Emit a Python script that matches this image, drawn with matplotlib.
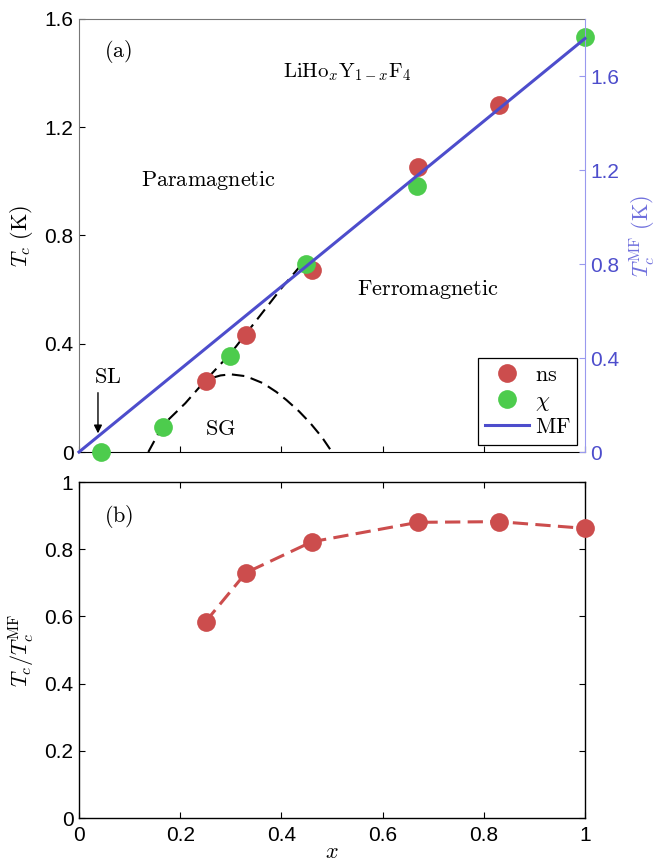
import matplotlib
matplotlib.use("Agg")
import matplotlib.pyplot as plt
from matplotlib.lines import Line2D

plt.rcParams['font.family'] = ['Liberation Sans', 'DejaVu Sans']
plt.rcParams['mathtext.fontset'] = 'cm'

# ---------------- data ----------------
x_ns = [0.25, 0.33, 0.46, 0.67, 0.83]
tc_ns = [0.262, 0.432, 0.673, 1.053, 1.282]

x_chi = [0.043, 0.166, 0.298, 0.449, 0.668, 1.0]
tc_chi = [0.0, 0.092, 0.355, 0.695, 0.983, 1.534]

x_mf = [0.0, 1.0]
tc_mf = [0.0, 1.76]

# dashed guide: FM boundary
x_fm = [0.137, 0.166, 0.21, 0.25, 0.30, 0.35, 0.40, 0.443]
t_fm = [0.0, 0.10, 0.18, 0.265, 0.365, 0.485, 0.605, 0.70]
# dashed guide: spin-glass dome
x_sg = [0.265, 0.28, 0.30, 0.33, 0.364, 0.39, 0.41, 0.435, 0.457, 0.48, 0.50]
t_sg = [0.275, 0.283, 0.287, 0.28, 0.254, 0.222, 0.192, 0.15, 0.107, 0.055, 0.0]

x_ratio = [0.25, 0.33, 0.46, 0.67, 0.83, 1.0]
ratio = [0.584, 0.730, 0.822, 0.880, 0.882, 0.862]

xticks = [0, 0.2, 0.4, 0.6, 0.8, 1.0]
xtick_labels = ['0', '0.2', '0.4', '0.6', '0.8', '1']
yticks_a = [0, 0.4, 0.8, 1.2, 1.6]
yticks_a_labels = ['0', '0.4', '0.8', '1.2', '1.6']
yticks_b = [0, 0.2, 0.4, 0.6, 0.8, 1.0]
yticks_b_labels = ['0', '0.2', '0.4', '0.6', '0.8', '1']

RED = '#cc4d4d'
GREEN = '#4dcc4d'
BLUE = '#4d4dcc'
LBLUE = '#9999ee'

fig = plt.figure(figsize=(6.64, 8.63), dpi=100)
W, H = 664, 863
ax1 = fig.add_axes([79 / W, 1 - 452 / H, 506 / W, 433 / H])
ax2 = ax1.twinx()
axb = fig.add_axes([79 / W, 1 - 818 / H, 506 / W, 336 / H])

ms = 13.5
fs = 15      # tick labels
ft = 16      # annotation text

# ---------- panel (a) ----------
ax1.plot(x_fm, t_fm, color='black', lw=1.5, ls=(0, (6, 3.2)), zorder=2)
ax1.plot(x_sg, t_sg, color='black', lw=1.5, ls=(0, (6, 3.2)), zorder=2)
ax1.plot(x_ns, tc_ns, 'o', color=RED, ms=ms, mec='none', zorder=3, clip_on=False)
ax1.plot(x_chi, tc_chi, 'o', color=GREEN, ms=ms, mec='none', zorder=4, clip_on=False)
ax1.set_xlim(0, 1)
ax1.set_ylim(0, 1.6)
ax1.set_xticks(xticks)
ax1.set_xticklabels([])
ax1.set_yticks(yticks_a)
ax1.set_yticklabels(yticks_a_labels, fontsize=fs)
ax1.tick_params(axis='both', direction='in', length=4, width=0.8, pad=4)
ax1.tick_params(axis='y', colors='#000000', right=False)
ax1.tick_params(axis='x', top=False)
for s in ['left', 'top']:
    ax1.spines[s].set_color('#777777')
ax1.spines['bottom'].set_color('black')
ax1.spines['right'].set_visible(False)
ax1.set_ylabel(r'$T_c\ (\mathrm{K})$', fontsize=ft)
ax1.yaxis.set_label_coords(-0.087, 0.5)

ax2.plot(x_mf, tc_mf, color=BLUE, lw=2.2, zorder=3, clip_on=False)
ax2.set_ylim(0, 1.843)
ax2.set_yticks(yticks_a)
ax2.set_yticklabels(yticks_a_labels, fontsize=fs, color=BLUE)
ax2.tick_params(axis='y', direction='in', length=4, width=0.8, pad=4, colors=BLUE)
ax2.tick_params(axis='y', color=LBLUE)
for s in ['left', 'top', 'bottom']:
    ax2.spines[s].set_visible(False)
ax2.spines['right'].set_color(LBLUE)
ax2.set_ylabel(r'$T_c^{\mathrm{MF}}\ (\mathrm{K})$', fontsize=ft, color='#7070dd')
ax2.yaxis.set_label_coords(1.085, 0.5)

# annotations
tkw = dict(fontsize=ft, ha='center', va='center')
ax2.text(0.078, 0.925, r'$\mathrm{(a)}$', transform=ax1.transAxes, **tkw)
ax2.text(0.53, 0.878, r'$\mathrm{LiHo}_x\mathrm{Y}_{1-x}\mathrm{F}_4$', transform=ax1.transAxes,
         fontsize=15, ha='center', va='center')
ax2.text(0.255, 0.627, r'$\mathrm{Paramagnetic}$', transform=ax1.transAxes, **tkw)
ax2.text(0.69, 0.376, r'$\mathrm{Ferromagnetic}$', transform=ax1.transAxes, **tkw)
ax2.text(0.279, 0.053, r'$\mathrm{SG}$', transform=ax1.transAxes, **tkw)
ax2.text(0.057, 0.172, r'$\mathrm{SL}$', transform=ax1.transAxes, **tkw)
ax2.annotate('', xy=(0.0375, 0.043), xytext=(0.0375, 0.137),
             xycoords=ax1.transAxes, textcoords=ax1.transAxes,
             arrowprops=dict(arrowstyle='-|>', color='black', lw=1.0,
                             mutation_scale=12, shrinkA=0, shrinkB=0))

handles = [
    Line2D([], [], ls='none', marker='o', color=RED, ms=ms, mec='none'),
    Line2D([], [], ls='none', marker='o', color=GREEN, ms=ms, mec='none'),
    Line2D([], [], color=BLUE, lw=2.2),
]
leg = ax2.legend(handles, [r'$\mathrm{ns}$', r'$\chi$', r'$\mathrm{MF}$'],
                 loc='lower right', bbox_to_anchor=(0.985, 0.017),
                 fontsize=ft, frameon=True, fancybox=False,
                 edgecolor='black', framealpha=1, borderpad=0.3,
                 labelspacing=0.2, handlelength=2.0, handletextpad=0.25,
                 borderaxespad=0)
leg.get_frame().set_linewidth(0.9)
leg.set_zorder(10)

# ---------- panel (b) ----------
axb.plot(x_ratio, ratio, color=RED, lw=2.2, ls=(0, (5, 2.4)), marker='o',
         ms=ms, mec='none', clip_on=False, zorder=3)
axb.set_xlim(0, 1)
axb.set_ylim(0, 1)
axb.set_xticks(xticks)
axb.set_xticklabels(xtick_labels, fontsize=fs)
axb.set_yticks(yticks_b)
axb.set_yticklabels(yticks_b_labels, fontsize=fs)
axb.tick_params(axis='both', direction='in', length=4, width=0.8,
                top=True, right=True)
axb.tick_params(axis='x', pad=6)
axb.tick_params(axis='y', pad=4)
for s in axb.spines.values():
    s.set_color('black')
    s.set_linewidth(1.0)
axb.set_ylabel(r'$T_c/T_c^{\mathrm{MF}}$', fontsize=ft)
axb.yaxis.set_label_coords(-0.083, 0.5)
axb.set_xlabel(r'$x$', fontsize=ft, labelpad=0)
axb.xaxis.label.set_verticalalignment('center')
axb.xaxis.set_label_coords(0.5, -0.104)
axb.text(0.078, 0.898, r'$\mathrm{(b)}$', transform=axb.transAxes, **tkw)

fig.savefig('out.png', dpi=100)
